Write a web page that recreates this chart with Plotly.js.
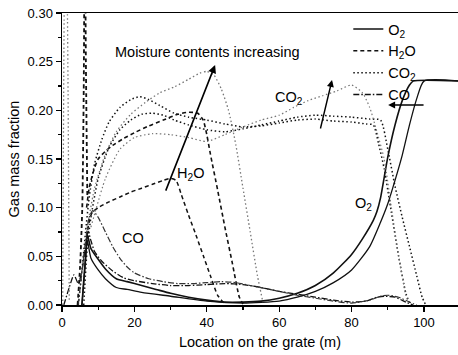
<!DOCTYPE html>
<html>
<head>
<meta charset="utf-8">
<script src="https://cdn.plot.ly/plotly-3.0.1.min.js"></script>
<style>html,body{margin:0;padding:0;background:#fff;}#chart{width:458px;height:355px;}</style>
</head>
<body>
<div id="chart"></div>
<script>
// ---- O2 (solid) ----
var o2aX = [5.5, 6.5, 7, 8, 10, 12, 15, 18, 22, 26, 30, 35, 40, 45, 50, 55, 60, 65, 70, 75, 80, 83, 86, 87, 88, 90, 92, 94, 96, 97, 110];
var o2aY = [0.0, 0.05, 0.072, 0.058, 0.047, 0.037, 0.027, 0.024, 0.02, 0.016, 0.012, 0.008, 0.005, 0.003, 0.003, 0.004, 0.007, 0.012, 0.02, 0.033, 0.052, 0.068, 0.087, 0.096, 0.11, 0.152, 0.185, 0.21, 0.226, 0.23, 0.23];
var o2bX = [5.5, 6.5, 7, 8, 10, 12, 15, 18, 22, 30, 40, 50, 60, 65, 70, 75, 80, 85, 88, 90, 92, 94, 96, 98, 100, 110];
var o2bY = [0.0, 0.045, 0.066, 0.048, 0.036, 0.027, 0.018, 0.016, 0.013, 0.009, 0.004, 0.002, 0.004, 0.008, 0.014, 0.023, 0.036, 0.06, 0.085, 0.104, 0.128, 0.154, 0.185, 0.212, 0.23, 0.23];

// ---- H2O (dashed) ----
var h2o0X = [0.2, 0.6, 1.0, 1.5, 2.0];
var h2o0Y = [0.0, 0.3, 0.4, 0.3, 0.005];
var h2o1X = [6.8, 7.5, 8.3, 10, 13, 16, 19, 22, 25, 28, 30, 31.5, 33, 35, 37, 39, 41, 43, 45];
var h2o1Y = [0.07, 0.085, 0.095, 0.1, 0.106, 0.111, 0.116, 0.12, 0.124, 0.128, 0.13, 0.128, 0.113, 0.092, 0.072, 0.051, 0.03, 0.01, 0.001];
var h2o2X = [6.8, 7.5, 8.5, 10, 12, 14, 17, 20, 24, 28, 32, 35, 37.5, 39, 40, 41, 43, 45, 47, 49, 50];
var h2o2Y = [0.1, 0.12, 0.135, 0.15, 0.158, 0.164, 0.171, 0.177, 0.184, 0.19, 0.196, 0.198, 0.197, 0.19, 0.175, 0.155, 0.118, 0.08, 0.044, 0.008, 0.001];
var h2o3X = [4.3, 5.0, 5.6, 6.0, 6.3, 6.6, 7.0];
var h2o3Y = [0.0, 0.04, 0.1, 0.22, 0.4, 0.25, 0.11];

// ---- CO2 (dotted) ----
var co2aX = [4.5, 5.5, 6.5, 7.5, 9, 11, 13, 16, 19, 21.5, 24, 27, 31, 35, 40, 45, 50, 55, 60, 65, 70, 75, 80, 84, 86, 87.5, 89, 91, 93, 95, 96];
var co2aY = [0.0, 0.035, 0.075, 0.11, 0.145, 0.17, 0.188, 0.203, 0.211, 0.214, 0.211, 0.205, 0.197, 0.193, 0.19, 0.186, 0.183, 0.184, 0.187, 0.19, 0.191, 0.189, 0.188, 0.186, 0.185, 0.165, 0.14, 0.095, 0.05, 0.012, 0.002];
var co2bX = [6, 7, 8, 10, 13, 16, 19, 22, 25, 28, 31, 35, 40, 45, 50, 55, 60, 65, 70, 75, 80, 85, 88, 90, 92, 94, 96, 98, 99.5, 100.5];
var co2bY = [0.0, 0.06, 0.09, 0.13, 0.162, 0.18, 0.19, 0.196, 0.197, 0.195, 0.19, 0.185, 0.18, 0.178, 0.181, 0.185, 0.189, 0.193, 0.195, 0.194, 0.193, 0.191, 0.19, 0.16, 0.122, 0.09, 0.06, 0.03, 0.008, 0.0];
var co2cX = [7, 9, 12, 15, 19, 23, 27, 31, 35, 38, 40, 42, 44, 46, 48, 50, 52, 54, 55.5];
var co2cY = [0.08, 0.12, 0.155, 0.178, 0.196, 0.208, 0.218, 0.224, 0.232, 0.238, 0.24, 0.236, 0.222, 0.2, 0.165, 0.12, 0.075, 0.03, 0.003];
var co2dX = [8, 12, 16, 20, 25, 30, 35, 40, 45, 50, 55, 60, 64, 68, 72, 76, 80, 83, 85, 87, 89, 91, 93, 95, 96];
var co2dY = [0.08, 0.13, 0.16, 0.172, 0.176, 0.175, 0.172, 0.168, 0.175, 0.183, 0.19, 0.195, 0.203, 0.21, 0.215, 0.22, 0.226, 0.218, 0.203, 0.178, 0.15, 0.1, 0.05, 0.01, 0.0];

// ---- CO (dash-dot) ----
var coaX = [0.5, 2, 3.3, 4.5, 5.5, 6.5, 7.2, 8, 9, 11, 14, 17, 20, 25, 30, 35, 40, 45, 50, 55, 60, 65, 70, 75, 80, 84, 87, 89, 92, 95, 97];
var coaY = [0.0, 0.018, 0.031, 0.022, 0.035, 0.06, 0.076, 0.066, 0.055, 0.045, 0.035, 0.028, 0.025, 0.022, 0.02, 0.02, 0.021, 0.022, 0.021, 0.018, 0.014, 0.011, 0.008, 0.005, 0.003, 0.004, 0.008, 0.009, 0.008, 0.003, 0.0];
var cobX = [4.5, 6, 7.5, 8.5, 10, 12, 14, 16, 18, 20, 24, 28, 32, 36, 40, 44, 48, 52, 56, 60, 65, 70, 75, 80, 85, 88, 90, 93, 96, 98];
var cobY = [0.0, 0.05, 0.09, 0.097, 0.09, 0.075, 0.06, 0.048, 0.039, 0.033, 0.027, 0.024, 0.022, 0.022, 0.023, 0.024, 0.023, 0.02, 0.017, 0.014, 0.01, 0.007, 0.004, 0.002, 0.005, 0.009, 0.01, 0.008, 0.003, 0.0];

var legendNames = ['O<sub>2</sub>', 'H<sub>2</sub>O', 'CO<sub>2</sub>', 'CO'];
var xTickVals = [0, 20, 40, 60, 80, 100];
var yTickVals = [0.00, 0.05, 0.10, 0.15, 0.20, 0.25, 0.30];

var DASH = '4px,3px', DOT = '1.5px,2.5px', DASHDOT = '6px,2px,1.5px,2px';
function tr(x, y, dash, color, name, show, width) {
  return {x: x, y: y, type: 'scatter', mode: 'lines', name: name || '',
    showlegend: !!show, hoverinfo: 'skip',
    line: {color: color, dash: dash, width: width || 1.3, shape: 'spline', smoothing: 0.6}};
}
var BK = '#111', GR = '#777';
var data = [
  tr(o2aX, o2aY, 'solid', BK, legendNames[0], true, 1.6),
  tr(h2o1X, h2o1Y, DASH, BK, legendNames[1], true, 1.5),
  tr(co2aX, co2aY, DOT, BK, legendNames[2], true, 1.5),
  tr(coaX, coaY, DASHDOT, BK, legendNames[3], true, 1.3),
  tr(o2bX, o2bY, 'solid', BK, '', false, 1.3),
  tr(h2o0X, h2o0Y, DOT, GR, '', false, 1.3),
  tr(h2o2X, h2o2Y, DASH, BK, '', false, 1.6),
  tr(h2o3X, h2o3Y, DASH, BK, '', false, 1.8),
  tr(co2bX, co2bY, DOT, BK, '', false, 1.5),
  tr(co2cX, co2cY, DOT, GR, '', false, 1.3),
  tr(co2dX, co2dY, DOT, GR, '', false, 1.2),
  tr(cobX, cobY, DASHDOT, '#333', '', false, 1.2)
];

var FONT = 'Liberation Sans, Arial, sans-serif';
var layout = {
  width: 458, height: 355,
  margin: {l: 62, r: 0, t: 13, b: 50},
  paper_bgcolor: '#fff', plot_bgcolor: '#fff',
  font: {family: FONT, color: '#000', size: 13},
  showlegend: true,
  legend: {x: 0.723, y: 1.0, xanchor: 'left', yanchor: 'top', bgcolor: 'rgba(0,0,0,0)',
    font: {family: FONT, size: 14.5, color: '#000'}, tracegroupgap: 0},
  xaxis: {range: [0, 109.4], tickvals: xTickVals, ticktext: xTickVals.map(String),
    showgrid: false, zeroline: false, showline: true, linecolor: '#000', linewidth: 1.5,
    mirror: true, ticks: 'outside', ticklen: 5, tickwidth: 1.2, tickcolor: '#000',
    minor: {dtick: 10, tick0: 0, ticks: 'outside', ticklen: 3, tickcolor: '#000'},
    tickfont: {size: 13},
    title: {text: 'Location on the grate (m)', font: {size: 14.5}, standoff: 8}},
  yaxis: {range: [0, 0.30], tickvals: yTickVals, ticktext: yTickVals.map(function(v){return v.toFixed(2);}),
    showgrid: false, zeroline: false, showline: true, linecolor: '#000', linewidth: 1.5,
    mirror: false, ticks: 'outside', ticklen: 5, tickwidth: 1.2, tickcolor: '#000',
    minor: {dtick: 0.025, tick0: 0, ticks: 'outside', ticklen: 3, tickcolor: '#000'},
    tickfont: {size: 13},
    title: {text: 'Gas mass fraction', font: {size: 14.5}, standoff: 4}},
  annotations: [
    {x: 40.2, y: 0.26, xref: 'x', yref: 'y', text: 'Moisture contents increasing', showarrow: false,
      font: {size: 14.5}},
    {x: 42.3, y: 0.2466, ax: 28.5, ay: 0.116, xref: 'x', yref: 'y', axref: 'x', ayref: 'y',
      text: '', showarrow: true, arrowhead: 2, arrowsize: 1, arrowwidth: 1.6, arrowcolor: '#000'},
    {x: 35.4, y: 0.1346, xref: 'x', yref: 'y', text: 'H<sub>2</sub>O', showarrow: false, font: {size: 14.5}},
    {x: 19.5, y: 0.0688, xref: 'x', yref: 'y', text: 'CO', showarrow: false, font: {size: 14.5}},
    {x: 62.7, y: 0.2127, xref: 'x', yref: 'y', text: 'CO<sub>2</sub>', showarrow: false, font: {size: 14.5}},
    {x: 74.6, y: 0.2312, ax: 71.3, ay: 0.1798, xref: 'x', yref: 'y', axref: 'x', ayref: 'y',
      text: '', showarrow: true, arrowhead: 2, arrowsize: 1, arrowwidth: 1.4, arrowcolor: '#000'},
    {x: 83.4, y: 0.104, xref: 'x', yref: 'y', text: 'O<sub>2</sub>', showarrow: false, font: {size: 14.5}},
    {x: 90.1, y: 0.2055, ax: 100.3, ay: 0.2055, xref: 'x', yref: 'y', axref: 'x', ayref: 'y',
      text: '', showarrow: true, arrowhead: 2, arrowsize: 1, arrowwidth: 1.4, arrowcolor: '#000'}
  ]
};
Plotly.newPlot('chart', data, layout, {displayModeBar: false, staticPlot: true});
</script>
</body>
</html>
